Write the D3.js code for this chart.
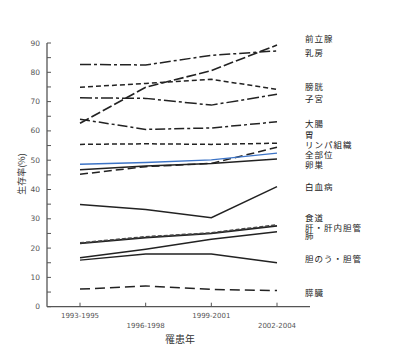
<!DOCTYPE html>
<html>
<head>
<meta charset="utf-8">
<script src="https://cdn.jsdelivr.net/npm/d3@7"></script>
<style>
  body { margin: 0; background: #fff; }
  svg { display: block; font-family: "Noto Sans CJK JP", "DejaVu Sans", sans-serif; }
</style>
</head>
<body>
<svg id="chart" width="400" height="354"></svg>
<script>
// periods on the x axis
const periods = ["1993-1995", "1996-1998", "1999-2001", "2002-2004"];

// survival rate (%) per period
const prostate   = [62.6, 74.9, 80.6, 89.3];
const breast     = [82.7, 82.5, 85.8, 87.3];
const bladder    = [74.9, 76.2, 77.6, 74.2];
const uterus     = [71.3, 71.1, 68.8, 72.5];
const colon      = [64.0, 60.5, 61.0, 63.1];
const stomach    = [55.4, 55.6, 55.4, 55.8];
const lymph      = [45.2, 47.8, 48.9, 54.4];
const allSites   = [48.6, 49.2, 50.1, 52.4];
const ovary      = [46.7, 48.0, 48.9, 50.4];
const leukemia   = [34.9, 33.2, 30.4, 41.0];
const esophagus  = [21.8, 23.9, 25.2, 28.0];
const liver      = [21.6, 23.6, 25.0, 27.6];
const lung       = [16.7, 19.6, 23.0, 25.6];
const gallbladder= [15.9, 18.0, 18.0, 15.0];
const pancreas   = [6.0, 7.1, 5.9, 5.5];

// right-hand labels and the value level they sit at
const labelNames  = ["前立腺", "乳房", "膀胱", "子宮", "大腸", "胃", "リンパ組織", "全部位", "卵巣",
                     "白血病", "食道", "肝・肝内胆管", "肺", "胆のう・胆管", "膵臓"];
const labelLevels = [91.7, 86.6, 75.3, 71.2, 62.4, 58.9, 55.5, 51.8, 48.4,
                     40.9, 30.6, 27.2, 24.2, 16.3, 4.7];

const yTicks = [0, 10, 20, 30, 40, 50, 60, 70, 80, 90];

// line styles (dash pattern, colour)
const series = [
    {v: prostate,    dash: "10,3",        color: "#222", w: 1.6},
    {v: breast,      dash: "11,3,3,3",    color: "#222", w: 1.5},
    {v: bladder,     dash: "5,3",         color: "#222", w: 1.5},
    {v: uterus,      dash: "12,3,3,3",    color: "#222", w: 1.5},
    {v: colon,       dash: "10,3,3,3",    color: "#222", w: 1.5},
    {v: stomach,     dash: "5,3",         color: "#222", w: 1.5},
    {v: lymph,       dash: "8,4",         color: "#222", w: 1.5},
    {v: allSites,    dash: null,          color: "#3d74c6", w: 1.4},
    {v: ovary,       dash: null,          color: "#222", w: 1.5},
    {v: leukemia,    dash: null,          color: "#222", w: 1.5},
    {v: liver,       dash: null,          color: "#222", w: 1.8},
    {v: esophagus,   dash: "4,2",         color: "#444", w: 1.5},
    {v: lung,        dash: null,          color: "#222", w: 1.4},
    {v: gallbladder, dash: null,          color: "#222", w: 1.4},
    {v: pancreas,    dash: "10,5",        color: "#222", w: 1.5}
];

const svg = d3.select("#chart");

const x = d3.scalePoint().domain(periods).range([80, 277]);
const y = d3.scaleLinear().domain([0, 90]).range([306.7, 43]);

const axisColor = "#555";

// y axis
svg.append("line")
    .attr("x1", 47).attr("x2", 47)
    .attr("y1", y(90)).attr("y2", y(0))
    .attr("stroke", axisColor).attr("stroke-width", 1.3);

svg.selectAll(".ytick")
    .data(d3.range(0, 91, 5))
    .enter().append("line")
    .attr("class", "ytick")
    .attr("x1", 47).attr("x2", 51)
    .attr("y1", d => y(d)).attr("y2", d => y(d))
    .attr("stroke", axisColor).attr("stroke-width", 1);

svg.selectAll(".ylab")
    .data(yTicks)
    .enter().append("text")
    .attr("class", "ylab")
    .attr("x", 40).attr("y", d => y(d) + 2.5)
    .attr("text-anchor", "end")
    .attr("font-size", 7.5)
    .attr("fill", "#555")
    .attr("font-family", "DejaVu Sans")
    .text(d => d);

// x axis
svg.append("line")
    .attr("x1", 47).attr("x2", 310)
    .attr("y1", y(0)).attr("y2", y(0))
    .attr("stroke", axisColor).attr("stroke-width", 1.3);

svg.selectAll(".xtick")
    .data(periods)
    .enter().append("line")
    .attr("class", "xtick")
    .attr("x1", d => x(d)).attr("x2", d => x(d))
    .attr("y1", y(0) - 4).attr("y2", y(0))
    .attr("stroke", axisColor).attr("stroke-width", 1);

svg.selectAll(".xlab")
    .data(periods)
    .enter().append("text")
    .attr("class", "xlab")
    .attr("x", d => x(d))
    .attr("y", (d, i) => i % 2 == 0 ? 318 : 328)
    .attr("text-anchor", "middle")
    .attr("font-size", 7)
    .attr("fill", "#555")
    .attr("font-family", "DejaVu Sans")
    .text(d => d);

svg.append("text")
    .attr("x", 180).attr("y", 343)
    .attr("text-anchor", "middle")
    .attr("font-size", 10)
    .attr("fill", "#333")
    .text("罹患年");

svg.append("text")
    .attr("transform", "translate(25,174) rotate(-90)")
    .attr("text-anchor", "middle")
    .attr("font-size", 9)
    .attr("fill", "#333")
    .text("生存率(%)");

// lines
let line = d3.line()
    .x((d, i) => x(periods[i]))
    .y(d => y(d));

svg.append("g")
    .selectAll("path")
    .data(series)
    .enter().append("path")
    .attr("d", d => line(d.v))
    .attr("fill", "none")
    .attr("stroke", d => d.color)
    .attr("stroke-width", d => d.w)
    .attr("stroke-dasharray", d => d.dash);

// labels on the right
svg.selectAll(".name")
    .data(labelNames)
    .enter().append("text")
    .attr("class", "name")
    .attr("x", 305)
    .attr("y", (d, i) => y(labelLevels[i]) + 3.5)
    .attr("font-size", 8.5)
    .attr("letter-spacing", 1)
    .attr("fill", "#222")
    .text(d => d);
</script>
</body>
</html>
